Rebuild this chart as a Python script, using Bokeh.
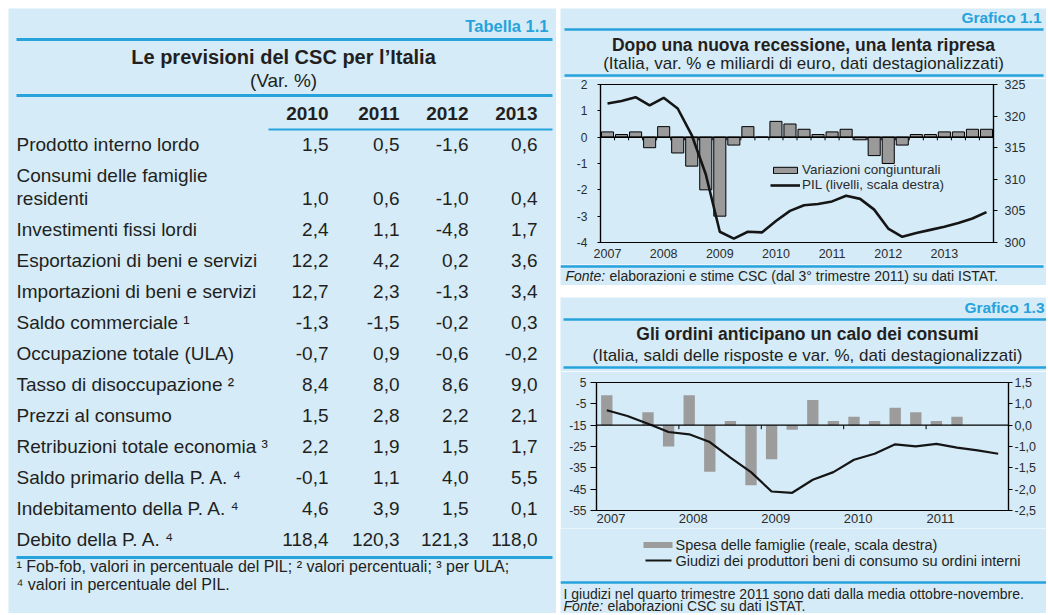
from bokeh.plotting import figure
from bokeh.layouts import row, column
from bokeh.models import Range1d, LinearAxis, FixedTicker, Span, Legend, LegendItem, Spacer
from bokeh.embed import file_html
from bokeh.resources import INLINE
from bokeh.core.properties import value

FONT = "Liberation Sans"
BG = "#d5ebf8"
CYAN = "#27a3dc"
INK = "#231f20"
AXIS_INK = "#2b2b2b"

# ---------------- data: Tabella 1.1 ----------------
table_years = ["2010", "2011", "2012", "2013"]
table_rows = [
    "Prodotto interno lordo",
    "Consumi delle famiglie\nresidenti",
    "Investimenti fissi lordi",
    "Esportazioni di beni e servizi",
    "Importazioni di beni e servizi",
    "Saldo commerciale \u00b9",
    "Occupazione totale (ULA)",
    "Tasso di disoccupazione \u00b2",
    "Prezzi al consumo",
    "Retribuzioni totale economia \u00b3",
    "Saldo primario della P. A. \u2074",
    "Indebitamento della P. A. \u2074",
    "Debito della P. A. \u2074",
]
val_2010 = [1.5, 1.0, 2.4, 12.2, 12.7, -1.3, -0.7, 8.4, 1.5, 2.2, -0.1, 4.6, 118.4]
val_2011 = [0.5, 0.6, 1.1, 4.2, 2.3, -1.5, 0.9, 8.0, 2.8, 1.9, 1.1, 3.9, 120.3]
val_2012 = [-1.6, -1.0, -4.8, 0.2, -1.3, -0.2, -0.6, 8.6, 2.2, 1.5, 4.0, 1.5, 121.3]
val_2013 = [0.6, 0.4, 1.7, 3.6, 3.4, 0.3, -0.2, 9.0, 2.1, 1.7, 5.5, 0.1, 118.0]
table_notes = [
    "\u00b9 Fob-fob, valori in percentuale del PIL; \u00b2 valori percentuali; \u00b3 per ULA;",
    "\u2074 valori in percentuale del PIL.",
]

# ---------------- data: Grafico 1.1 (quarterly 2007Q1-2013Q4) ----------------
c1_year_labels = ["2007", "2008", "2009", "2010", "2011", "2012", "2013"]
c1_qoq = [0.2, 0.1, 0.2, -0.4, 0.4, -0.6, -1.1, -2.0, -3.0, -0.3, 0.4, 0.0, 0.6, 0.5,
          0.3, 0.1, 0.2, 0.3, -0.1, -0.7, -1.0, -0.3, 0.1, 0.1, 0.2, 0.2, 0.3, 0.3]
c1_gdp = [322.0, 322.4, 323.0, 321.7, 322.9, 321.2, 317.0, 310.8, 301.7, 300.6, 301.7, 301.6,
          303.4, 305.0, 305.9, 306.1, 306.5, 307.4, 306.9, 305.2, 302.2, 300.9, 301.5, 302.0,
          302.5, 303.1, 303.8, 304.8]
c1_left_ticks = [-4, -3, -2, -1, 0, 1, 2]
c1_right_ticks = [300, 305, 310, 315, 320, 325]

# ---------------- data: Grafico 1.3 (quarterly 2007Q1-2011Q4) ----------------
c2_year_labels = ["2007", "2008", "2009", "2010", "2011"]
c2_spend = [0.70, 0.0, 0.30, -0.50, 0.70, -1.09, 0.10, -1.41, -0.80, -0.11, 0.59, 0.10,
            0.20, 0.10, 0.41, 0.30, 0.10, 0.20]
c2_orders = [-8.0, -10.7, -14.3, -18.2, -19.3, -22.9, -30.2, -37.0, -46.1, -46.7, -40.6,
             -37.0, -31.2, -28.4, -24.0, -24.9, -23.8, -25.5, -26.8, -28.4]
c2_left_ticks = [5, -5, -15, -25, -35, -45, -55]
c2_right_ticks = [1.0, 0.5, 0.0, -0.5, -1.0, -1.5, -2.0]
c2_right_labels = ["1,5", "1,0", "0,0", "-1,0", "-1,5", "-2,0", "-2,5"]


# ---------------- helpers ----------------
def unalign(p):
    if "frame_align" in p.properties():
        p.frame_align = False
    return p


def canvas(w, h, x0, y0):
    p = figure(width=w, height=h, x_range=Range1d(x0, x0 + w), y_range=Range1d(y0 + h, y0),
               x_axis_type=None, y_axis_type=None, output_backend="svg", toolbar_location=None,
               min_border=0, min_border_left=0, min_border_right=0, min_border_top=0,
               min_border_bottom=0, background_fill_color=BG, border_fill_color=BG,
               outline_line_color=None)
    return unalign(p)


def txt(p, xs, ys, texts, size, align="left", style="normal", color=INK):
    p.text(x=xs, y=ys, text=texts, text_font=value(FONT), text_font_size=size,
           text_font_style=style, text_color=color, text_align=align, text_baseline="middle")


def hline(p, x0, x1, y, width, color=CYAN):
    p.segment(x0=[x0], y0=[y], x1=[x1], y1=[y], line_color=color, line_width=width)


def fmt(v):
    return f"{v:.1f}".replace(".", ",")


def style_axis(ax, size):
    ax.major_label_text_font = FONT
    ax.major_label_text_font_size = size
    ax.major_label_text_color = AXIS_INK
    ax.minor_tick_out = 0
    ax.minor_tick_in = 0
    ax.major_tick_in = 0
    ax.axis_line_color = "black"
    ax.major_tick_line_color = "black"
    ax.axis_line_width = 1.2


# ---------------- table (window coordinates) ----------------
tab = canvas(548, 605, 8, 8)
txt(tab, [548], [25], ["Tabella 1.1"], "16.5px", "right", "bold", CYAN)
for yy in (39, 95, 557):
    hline(tab, 16, 552, yy, 3)
hline(tab, 268, 552, 129, 2)
txt(tab, [283], [56], ["Le previsioni del CSC per l\u2019Italia"], "20px", "center", "bold")
txt(tab, [283], [80], ["(Var. %)"], "19px", "center")
col_right = [328, 399, 468, 537]
txt(tab, col_right, [113] * 4, table_years, "19px", "right", "bold")

row_y = []
yc = 144.0
for name in table_rows:
    yc += 22.7 * name.count("\n")
    row_y.append(yc)
    yc += 31
lab_x, lab_y, lab_t = [], [], []
for name, ry in zip(table_rows, row_y):
    lines = name.split("\n")
    for j, ln in enumerate(lines):
        lab_x.append(16)
        lab_y.append(ry - 22.7 * (len(lines) - 1 - j))
        lab_t.append(ln)
txt(tab, lab_x, lab_y, lab_t, "19px")
for vals, cx in zip([val_2010, val_2011, val_2012, val_2013], col_right):
    txt(tab, [cx] * len(vals), row_y, [fmt(v) for v in vals], "19px", "right")
txt(tab, [16, 16], [566, 584], table_notes, "16px")

# ---------------- Grafico 1.1 ----------------
RW = 486  # right column width: window x 560..1046
h1 = canvas(RW, 70, 560, 8)
txt(h1, [1041], [17], ["Grafico 1.1"], "15.5px", "right", "bold", CYAN)
hline(h1, 564, 1043, 29, 2.5)
hline(h1, 564, 1043, 75, 2.5)
txt(h1, [803], [44], ["Dopo una nuova recessione, una lenta ripresa"], "17.5px", "center", "bold")
txt(h1, [803], [63], ["(Italia, var. % e miliardi di euro, dati destagionalizzati)"], "17px", "center")

n1 = len(c1_qoq)
x1 = [i + 0.5 for i in range(n1)]
c1 = figure(width=RW, height=186, x_range=Range1d(0, n1),
            y_range=Range1d(c1_left_ticks[0], c1_left_ticks[-1]),
            output_backend="svg", toolbar_location=None,
            min_border_left=40, min_border_right=RW - 40 - 393, min_border_top=6, min_border_bottom=22,
            background_fill_color=BG, border_fill_color=BG,
            outline_line_color="black", outline_line_width=1.2)
unalign(c1)
c1.extra_y_ranges = {"lvl": Range1d(c1_right_ticks[0], c1_right_ticks[-1])}
c1.grid.visible = False
bars1 = c1.vbar(x=x1, top=c1_qoq, bottom=0, width=0.86, fill_color="#9a9a9a",
                line_color="black", line_width=1)
c1.add_layout(Span(location=0, dimension="width", line_color="black", line_width=1.5))
qb = list(range(1, n1))
c1.segment(x0=qb, y0=[0] * len(qb), x1=qb, y1=[-0.12] * len(qb), line_color="black", line_width=1)
line1 = c1.line(x=x1, y=c1_gdp, y_range_name="lvl", line_color="#151515", line_width=2.6)

ticks1 = [4 * k + 0.5 for k in range(len(c1_year_labels))]
xa = c1.xaxis[0]
xa.ticker = FixedTicker(ticks=ticks1)
xa.major_label_overrides = dict(zip(ticks1, c1_year_labels))
style_axis(xa, "12.5px")
xa.major_tick_out = 0
xa.axis_line_color = None
xa.major_label_standoff = 6

ya = c1.yaxis[0]
ya.ticker = FixedTicker(ticks=c1_left_ticks)
ya.major_label_overrides = {t: str(t) for t in c1_left_ticks}
style_axis(ya, "12px")
ya.major_tick_out = 3
ya.major_label_standoff = 10

ra = LinearAxis(y_range_name="lvl", ticker=FixedTicker(ticks=c1_right_ticks))
style_axis(ra, "12.5px")
ra.major_tick_out = 4
ra.major_label_standoff = 7
c1.add_layout(ra, "right")

leg1 = Legend(items=[LegendItem(label="Variazioni congiunturali", renderers=[bars1]),
                     LegendItem(label="PIL (livelli, scala destra)", renderers=[line1])],
              location=(170, 50), background_fill_alpha=0, border_line_alpha=0,
              padding=0, margin=0, spacing=0, label_height=15, glyph_height=8,
              glyph_width=30, label_standoff=2, label_text_font=FONT,
              label_text_font_size="13.5px", label_text_color=AXIS_INK)
c1.add_layout(leg1)

f1 = canvas(RW, 21, 560, 264)
hline(f1, 560, 1043, 266, 2.5)
f1.text(x=[565], y=[275], text=["Fonte:"], text_font=value(FONT), text_font_size="14px",
        text_font_style="italic", text_color=INK, text_baseline="middle")
txt(f1, [609], [275], ["elaborazioni e stime CSC (dal 3\u00b0 trimestre 2011) su dati ISTAT."], "14px")

# ---------------- Grafico 1.3 ----------------
h2 = canvas(RW, 74, 560, 297)
txt(h2, [1044], [307], ["Grafico 1.3"], "15.5px", "right", "bold", CYAN)
hline(h2, 563, 1046, 319, 2.5)
hline(h2, 563, 1046, 367, 2.5)
txt(h2, [807], [333], ["Gli ordini anticipano un calo dei consumi"], "17.5px", "center", "bold")
txt(h2, [807], [355], ["(Italia, saldi delle risposte e var. %, dati destagionalizzati)"], "17px", "center")

n2 = len(c2_orders)
x2 = [i + 0.5 for i in range(n2)]
x2b = [i + 0.5 for i in range(len(c2_spend))]
c2 = figure(width=RW, height=157, x_range=Range1d(0, n2),
            y_range=Range1d(c2_left_ticks[-1], c2_left_ticks[0]),
            output_backend="svg", toolbar_location=None,
            min_border_left=36, min_border_right=RW - 36 - 412, min_border_top=11, min_border_bottom=18,
            background_fill_color=BG, border_fill_color=BG,
            outline_line_color="black", outline_line_width=1.2)
unalign(c2)
r_lo, r_hi = c2_right_ticks[-1], c2_right_ticks[0]
l_lo, l_hi = c2_left_ticks[-1], c2_left_ticks[0]
c2.extra_y_ranges = {"spend": Range1d(r_lo, r_hi)}
c2.grid.visible = False
c2.vbar(x=x2b, top=c2_spend, bottom=0, width=0.55, y_range_name="spend",
        fill_color="#9c9c9c", line_color=None)
zero_left = l_lo + (0 - r_lo) / (r_hi - r_lo) * (l_hi - l_lo)
c2.add_layout(Span(location=zero_left, dimension="width", line_color="black", line_width=1.3))
yb = [4 * k for k in range(1, len(c2_year_labels))]
c2.segment(x0=yb, y0=[zero_left] * len(yb), x1=yb, y1=[zero_left - 1.9] * len(yb),
           line_color="black", line_width=1)
c2.line(x=x2, y=c2_orders, line_color="#151515", line_width=2.2)

ticks2 = [4 * k + 0.7 for k in range(len(c2_year_labels))]
xb = c2.xaxis[0]
xb.ticker = FixedTicker(ticks=ticks2)
xb.major_label_overrides = dict(zip(ticks2, c2_year_labels))
style_axis(xb, "13px")
xb.major_tick_out = 0
xb.axis_line_color = None
xb.major_label_standoff = 3

yl = c2.yaxis[0]
yl.ticker = FixedTicker(ticks=c2_left_ticks)
yl.major_label_overrides = {t: str(t) for t in c2_left_ticks}
style_axis(yl, "12px")
yl.major_tick_out = 6
yl.major_label_standoff = 4

rb = LinearAxis(y_range_name="spend", ticker=FixedTicker(ticks=c2_right_ticks))
rb.major_label_overrides = dict(zip(c2_right_ticks, c2_right_labels))
style_axis(rb, "12.5px")
rb.major_tick_out = 4
rb.major_label_standoff = 2
c2.add_layout(rb, "right")

n2c = canvas(RW, 85, 560, 528)
n2c.quad(left=[643], right=[672], top=[541.5], bottom=[547.5], fill_color="#9c9c9c", line_color=None)
txt(n2c, [675], [544.5], ["Spesa delle famiglie (reale, scala destra)"], "14.5px")
hline(n2c, 645, 671, 560, 2.2, "#151515")
txt(n2c, [675], [560], ["Giudizi dei produttori beni di consumo su ordini interni"], "14.5px")
hline(n2c, 560, 1046, 582, 2.5)
txt(n2c, [563], [593], ["I giudizi nel quarto trimestre 2011 sono dati dalla media ottobre-novembre."], "14px")
n2c.text(x=[563], y=[605], text=["Fonte:"], text_font=value(FONT), text_font_size="14px",
         text_font_style="italic", text_color=INK, text_baseline="middle")
txt(n2c, [607], [605], ["elaborazioni CSC su dati ISTAT."], "14px")

right = column(h1, row(c1), f1, Spacer(width=RW, height=12), h2, row(c2), n2c, spacing=0)
body = row(Spacer(width=8, height=605), tab, Spacer(width=4, height=605), right, spacing=0)
page = column(Spacer(width=1046, height=8), body, spacing=0)

open("out.html", "w").write(file_html(page, INLINE, title="Previsioni CSC"))
